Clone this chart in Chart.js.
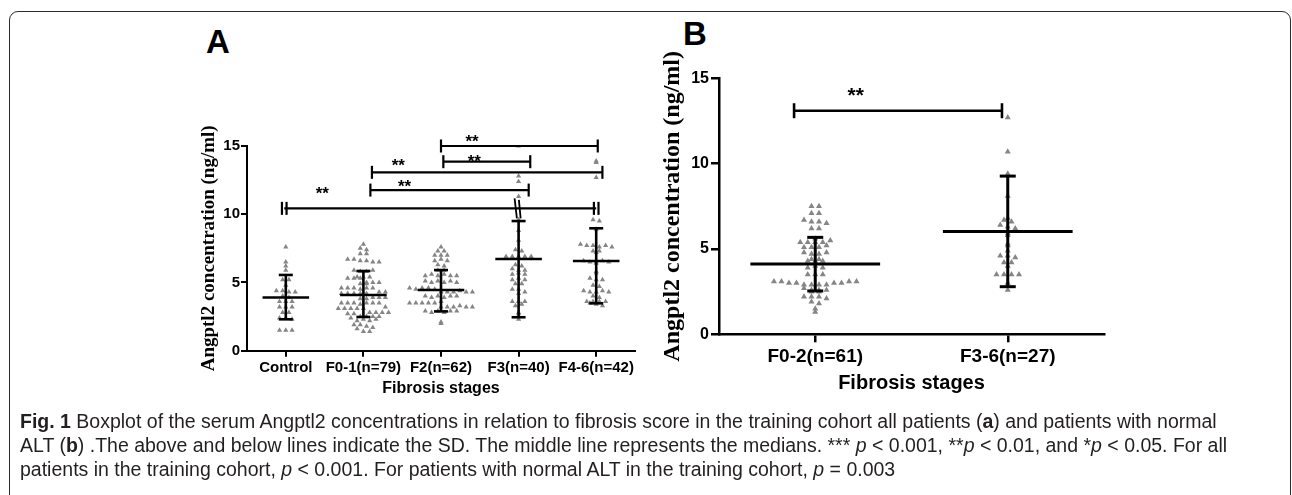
<!DOCTYPE html>
<html>
<head>
<meta charset="utf-8">
<script src="https://cdn.jsdelivr.net/npm/chart.js@4.4.1/dist/chart.umd.min.js"></script>
<style>
  html, body { margin: 0; padding: 0; background: #fff; }
  body { width: 1292px; height: 495px; position: relative; overflow: hidden; font-family: "Liberation Sans", Arial, sans-serif; }
  .frame { position: absolute; left: 9px; top: 11px; width: 1282px; height: 520px; border: 1.5px solid #2b2b2b; border-radius: 9px; box-sizing: border-box; }
  .panel-label { position: absolute; font-weight: bold; font-size: 33px; line-height: 33px; color: #000; }
  .chart-box { position: absolute; }
  .caption { position: absolute; left: 20px; top: 409px; font-family: "Liberation Sans", Arial, sans-serif; font-size: 19.5px; line-height: 24px; color: #231f20; white-space: nowrap; }
</style>
</head>
<body>
<div class="frame"></div>
<div class="panel-label" style="left:206px; top:25px;">A</div>
<div class="panel-label" style="left:683px; top:17px;">B</div>
<div class="chart-box" style="left:180px; top:120px; width:470px; height:290px;"><canvas id="chartA"></canvas></div>
<div class="chart-box" style="left:640px; top:50px; width:480px; height:360px;"><canvas id="chartB"></canvas></div>
<div class="caption">
  <div><b>Fig. 1</b> Boxplot of the serum Angptl2 concentrations in relation to fibrosis score in the training cohort all patients (<b>a</b>) and patients with normal</div>
  <div>ALT (<b>b</b>) .The above and below lines indicate the SD. The middle line represents the medians. *** <i>p</i> &lt; 0.001, **<i>p</i> &lt; 0.01, and *<i>p</i> &lt; 0.05. For all</div>
  <div>patients in the training cohort, <i>p</i> &lt; 0.001. For patients with normal ALT in the training cohort, <i>p</i> = 0.003</div>
</div>
<script>
// ---- Panel A data (ng/ml) ----
const categoriesA = ['Control', 'F0-1(n=79)', 'F2(n=62)', 'F3(n=40)', 'F4-6(n=42)'];
const controlVals = [7.6, 6.5, 6.2, 5.9, 5.2, 5.2, 4.8, 4.4, 4.4, 4.3, 4.3, 4.0, 3.9, 3.6, 3.6, 3.6, 3.2, 3.2, 3.2, 2.8, 2.8, 2.4, 2.4, 2.3, 1.5, 1.5, 1.5];
const f01Vals = [7.8, 7.5, 7.4, 7.1, 7.1, 6.7, 6.7, 6.6, 6.6, 6.5, 6.5, 5.9, 5.8, 5.8, 5.9,
  5.4, 5.4, 5.3, 5.3, 5.4, 5.3, 5.0, 4.9, 5.0, 4.9, 5.0, 4.6, 4.6, 4.6, 4.5, 4.6, 4.6,
  4.2, 4.2, 4.3, 4.2, 4.2, 4.3, 4.2, 3.9, 3.9, 3.8, 3.9, 3.8, 3.5, 3.5, 3.5, 3.4, 3.5, 3.5, 3.5,
  3.1, 3.1, 3.2, 3.1, 3.1, 3.1, 2.8, 2.7, 2.8, 2.7, 2.8, 2.8, 2.5, 2.5, 2.5, 2.4, 2.5,
  2.2, 2.3, 2.2, 2.3, 1.9, 1.9, 1.8, 1.6, 1.7, 1.4, 1.4];
const f2Vals = [7.6, 7.3, 7.3, 7.0, 7.0, 7.0, 6.6, 6.7, 6.6, 6.3, 6.2, 5.9, 5.9,
  5.5, 5.6, 5.5, 5.6, 5.5, 5.5, 5.1, 5.0, 5.1, 5.0, 5.1, 5.0, 4.6, 4.5, 4.6, 4.6, 4.5,
  4.3, 4.3, 4.3, 4.4, 4.3, 4.3, 4.0, 3.9, 4.0, 3.9, 4.0, 4.0, 3.5, 3.5, 3.6, 3.5, 3.5, 3.5,
  3.2, 3.2, 3.2, 3.3, 3.2, 3.2, 2.9, 2.8, 2.9, 2.8, 2.9, 2.9, 2.1, 2.0];
const f3Vals = [15.0, 12.8, 12.4, 11.3, 9.6, 8.8, 8.1, 7.4, 7.3, 6.9, 6.9, 6.9, 6.9, 6.9, 6.8,
  6.3, 6.2, 6.0, 5.9, 5.9, 5.6, 5.7, 5.6, 5.2, 5.3, 5.2, 4.9, 4.9, 4.5, 4.5, 4.2, 4.3,
  3.6, 3.6, 3.6, 3.3, 3.4, 2.7, 2.8, 2.3];
const f46Vals = [13.9, 13.8, 12.7, 9.6, 9.5, 8.9, 7.8, 7.7, 7.7, 7.6, 7.7, 7.6, 7.3, 7.2, 7.3,
  6.6, 6.5, 6.5, 6.6, 6.5, 6.4, 5.8, 5.7, 5.3, 5.2, 5.2, 4.8, 4.7, 4.4, 4.3, 4.3, 4.4, 4.3,
  4.0, 3.9, 3.6, 3.6, 3.6, 3.5, 3.6, 3.4, 3.3];
const medianA = [3.9, 4.08, 4.45, 6.72, 6.57];
const sdHighA = [5.55, 5.84, 5.91, 9.5, 8.97];
const sdLowA = [2.3, 2.47, 2.88, 2.45, 3.47];
// significance brackets: from group, to group, level (ng/ml)
const bracketFromA = [-0.02, 1.09, 1.11, 2.03, 2.0];
const bracketToA = [4.0, 3.13, 4.08, 3.15, 4.02];
const bracketLevelA = [10.43, 11.77, 13.07, 13.85, 15.0];
const starXA = [0.47, 1.53, 1.45, 2.43, 2.4];
const starYA = [11.86, 12.36, 13.87, 14.22, 15.66];

// ---- Panel B data ----
const categoriesB = ['F0-2(n=61)', 'F3-6(n=27)'];
const f02Vals = [7.5, 7.5, 7.1, 7.1, 6.7, 6.6, 6.6, 6.5, 6.2, 6.2, 5.6, 5.4, 5.4, 5.4, 5.4, 5.5,
  5.1, 5.1, 5.1, 5.2, 4.8, 4.7, 4.7, 4.8, 4.4, 4.3, 4.3, 4.4, 4.3, 3.9, 4.0, 3.9, 3.5, 3.5, 3.5,
  3.1, 3.1, 3.0, 3.0, 2.9, 2.9, 2.9, 2.9, 3.0, 3.0, 3.1, 3.1, 2.7, 2.6, 2.6, 2.6, 2.5, 2.5,
  2.2, 2.2, 2.2, 2.1, 1.9, 1.8, 1.5, 1.3];
const f36Vals = [12.7, 10.7, 9.4, 8.1, 6.8, 6.7, 6.6, 6.4, 6.3, 6.2, 5.9, 5.8, 5.3, 5.2, 4.9,
  4.6, 4.6, 4.5, 4.2, 4.2, 4.0, 3.5, 3.5, 3.5, 3.5, 3.0, 2.6];
const medianB = [4.12, 6.03];
const sdHighB = [5.68, 9.27];
const sdLowB = [2.54, 2.79];
const bracketFromB = [-0.11];
const bracketToB = [0.97];
const bracketLevelB = [13.1];
const starXB = [0.21];
const starYB = [14.33];

const yTicks = [0, 5, 10, 15];

// spread points of a column side by side, GraphPad style
function swarm(vals, idx, rowH, dx) {
  const rows = {};
  vals.forEach(v => {
    const k = Math.round(v / rowH);
    (rows[k] = rows[k] || []).push(v);
  });
  const pts = [];
  Object.values(rows).forEach(r => {
    r.forEach((v, j) => pts.push({ x: idx + (j - (r.length - 1) / 2) * dx, y: v }));
  });
  return pts;
}

function line(ctx, x1, y1, x2, y2) {
  ctx.beginPath();
  ctx.moveTo(x1, y1);
  ctx.lineTo(x2, y2);
  ctx.stroke();
}

function makeOverlay(cfg) {
  return {
    id: 'overlay',
    afterDatasetsDraw(chart) {
      const ctx = chart.ctx, xs = chart.scales.x, ys = chart.scales.y;
      const unit = xs.getPixelForValue(1) - xs.getPixelForValue(0);
      ctx.save();
      ctx.strokeStyle = '#000';
      ctx.fillStyle = '#000';
      // median line + SD bars
      ctx.lineWidth = cfg.barWidth;
      cfg.median.forEach((m, i) => {
        const cx = xs.getPixelForValue(i);
        const yM = ys.getPixelForValue(m);
        const yHi = ys.getPixelForValue(cfg.sdHigh[i]);
        const yLo = ys.getPixelForValue(cfg.sdLow[i]);
        line(ctx, cx - unit * cfg.medianHalf, yM, cx + unit * cfg.medianHalf, yM);
        line(ctx, cx, yHi, cx, yLo);
        line(ctx, cx - cfg.cap, yHi, cx + cfg.cap, yHi);
        line(ctx, cx - cfg.cap, yLo, cx + cfg.cap, yLo);
      });
      // brackets
      ctx.lineWidth = cfg.bracketWidth;
      cfg.bracketFrom.forEach((f, i) => {
        const x1 = xs.getPixelForValue(f);
        const x2 = xs.getPixelForValue(cfg.bracketTo[i]);
        const y = ys.getPixelForValue(cfg.bracketLevel[i]);
        const c = cfg.bracketCap;
        line(ctx, x1, y, x2, y);
        if (cfg.doubleFirst && i === 0) {
          [x1 - 2.3, x1 + 2.3, x2 - 2.3, x2 + 2.3].forEach(x => line(ctx, x, y - c, x, y + c));
        } else {
          line(ctx, x1, y - c, x1, y + c);
          line(ctx, x2, y - c, x2, y + c);
        }
      });
      // stars
      ctx.font = 'bold ' + cfg.starSize + 'px "Liberation Sans", Arial, sans-serif';
      ctx.textAlign = 'center';
      ctx.textBaseline = 'alphabetic';
      cfg.starX.forEach((sx, i) => {
        ctx.fillText('**', xs.getPixelForValue(sx), ys.getPixelForValue(cfg.starY[i]) + cfg.starSize * 0.58);
      });
      if (cfg.extra) cfg.extra(ctx, xs, ys);
      ctx.restore();
    }
  };
}

function makeChart(id, cats, groups, opt) {
  const datasets = groups.map((g, i) => ({
    data: swarm(g, i, opt.rowH, opt.dx),
    pointStyle: 'triangle',
    pointRadius: opt.pointR,
    backgroundColor: '#858585',
    borderColor: '#858585',
    borderWidth: 0
  }));
  return new Chart(document.getElementById(id), {
    type: 'scatter',
    data: { datasets },
    options: {
      responsive: true,
      maintainAspectRatio: false,
      animation: false,
      layout: { padding: opt.padding },
      plugins: { legend: { display: false }, tooltip: { enabled: false } },
      scales: {
        x: {
          type: 'linear',
          min: -0.5,
          max: cats.length - 0.5,
          afterBuildTicks: s => { s.ticks = cats.map((c, i) => ({ value: i })); },
          afterFit: s => { s.height = opt.xHeight; },
          ticks: {
            autoSkip: false, maxRotation: 0, padding: opt.xTickPad, color: '#000',
            font: { family: '"Liberation Sans", Arial, sans-serif', weight: 'bold', size: opt.xTickSize },
            callback: v => cats[v]
          },
          grid: { drawOnChartArea: false, drawTicks: true, tickLength: opt.tickLen, color: '#000', lineWidth: opt.axisWidth },
          border: { display: true, color: '#000', width: opt.axisWidth },
          title: {
            display: true, text: 'Fibrosis stages', color: '#000',
            font: { family: '"Liberation Sans", Arial, sans-serif', weight: 'bold', size: opt.xTitleSize },
            padding: { top: 0, bottom: opt.xTitlePad }
          }
        },
        y: {
          min: 0,
          max: 15,
          afterBuildTicks: s => { s.ticks = yTicks.map(v => ({ value: v })); },
          afterFit: s => { s.width = opt.yWidth; },
          ticks: {
            padding: opt.yTickPad, color: '#000',
            font: { family: '"Liberation Sans", Arial, sans-serif', weight: 'bold', size: opt.yTickSize }
          },
          grid: { drawOnChartArea: false, drawTicks: true, tickLength: opt.tickLen, color: '#000', lineWidth: opt.axisWidth },
          border: { display: true, color: '#000', width: opt.axisWidth },
          title: {
            display: true, text: 'Angptl2 concentration (ng/ml)', color: '#000',
            font: { family: '"Liberation Serif", "Times New Roman", serif', weight: 'bold', size: opt.yTitleSize },
            padding: { top: opt.yTitlePad, bottom: 0 }
          }
        }
      }
    },
    plugins: [makeOverlay(opt.overlay)]
  });
}

makeChart('chartA', categoriesA, [controlVals, f01Vals, f2Vals, f3Vals, f46Vals], {
  rowH: 0.37, dx: 0.081, pointR: 3,
  padding: { left: 0, right: 15, top: 26, bottom: 0 },
  xHeight: 59.3, yWidth: 67, tickLen: 6, axisWidth: 2,
  xTickSize: 15, yTickSize: 15, xTickPad: 2, yTickPad: 1,
  xTitleSize: 16, xTitlePad: 11.4, yTitleSize: 19, yTitlePad: 17.6,
  overlay: {
    median: medianA, sdHigh: sdHighA, sdLow: sdLowA,
    medianHalf: 0.3, cap: 7, barWidth: 2.6,
    bracketFrom: bracketFromA, bracketTo: bracketToA, bracketLevel: bracketLevelA,
    bracketCap: 6.5, bracketWidth: 2.2, doubleFirst: true,
    starX: starXA, starY: starYA, starSize: 17,
    extra: (ctx, xs, ys) => {
      // small break marks where the long bracket crosses F3
      const cx = xs.getPixelForValue(3);
      const yT = ys.getPixelForValue(bracketLevelA[0]) - 10;
      const yB = ys.getPixelForValue(bracketLevelA[0]) + 10;
      ctx.lineWidth = 1.8;
      line(ctx, cx - 4, yT, cx - 1.7, yB);
      line(ctx, cx + 0.3, yT + 1.5, cx + 2, yB);
    }
  }
});

makeChart('chartB', categoriesB, [f02Vals, f36Vals], {
  rowH: 0.3, dx: 0.039, pointR: 3.5,
  padding: { left: 0, right: 16, top: 28.3, bottom: 0 },
  xHeight: 75.7, yWidth: 79, tickLen: 8, axisWidth: 2.5,
  xTickSize: 19, yTickSize: 16, xTickPad: 3, yTickPad: 2,
  xTitleSize: 20, xTitlePad: 14.7, yTitleSize: 24, yTitlePad: 18.6,
  overlay: {
    median: medianB, sdHigh: sdHighB, sdLow: sdLowB,
    medianHalf: 0.337, cap: 8, barWidth: 3,
    bracketFrom: bracketFromB, bracketTo: bracketToB, bracketLevel: bracketLevelB,
    bracketCap: 7.5, bracketWidth: 2.6, doubleFirst: false,
    starX: starXB, starY: starYB, starSize: 21
  }
});
</script>
</body>
</html>
